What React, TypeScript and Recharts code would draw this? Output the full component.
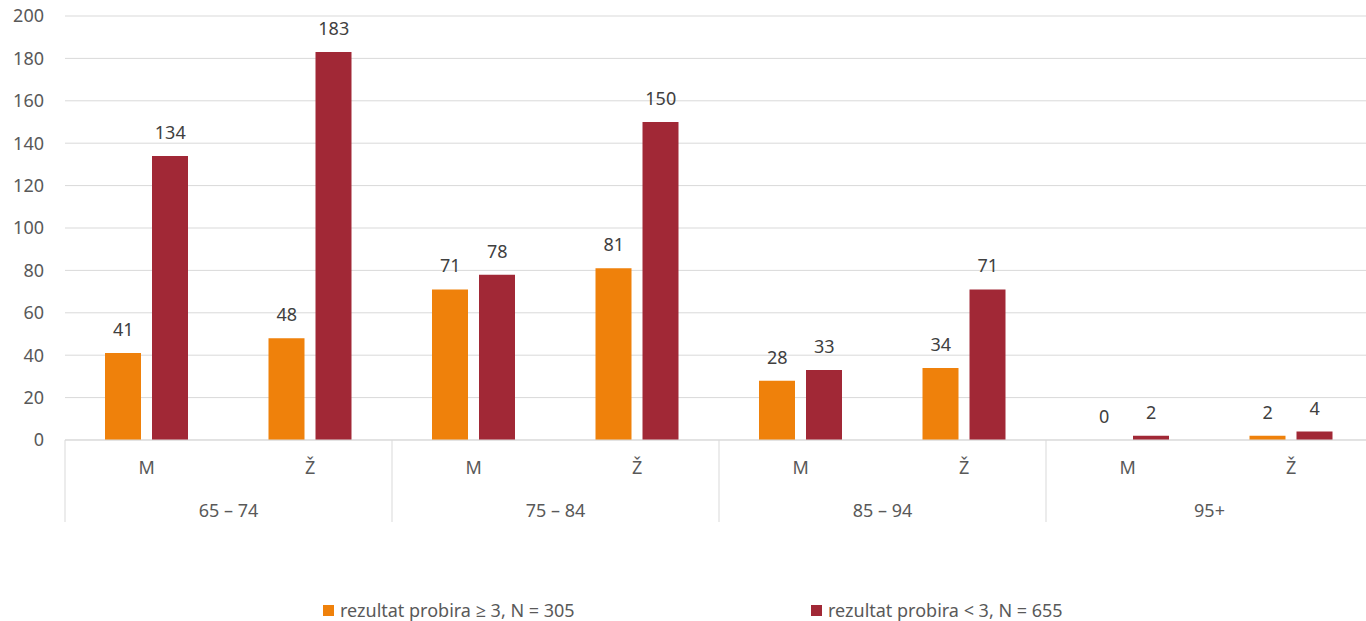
import React from 'react';
import { ComposedChart, Bar, Line, XAxis, YAxis, CartesianGrid, LabelList, Legend } from 'recharts';

const ageGroups = ['65 – 74', '75 – 84', '85 – 94', '95+'];
const sexes = ['M', 'Ž'];
const positiveValues = [41, 48, 71, 81, 28, 34, 0, 2];
const negativeValues = [134, 183, 78, 150, 33, 71, 2, 4];
const yTicks = [0, 20, 40, 60, 80, 100, 120, 140, 160, 180, 200];
const seriesNames = ['rezultat probira ≥ 3, N = 305', 'rezultat probira < 3, N = 655'];
const seriesColors = ['#EF810B', '#A12836'];

const data = positiveValues.map((v, i) => ({
  id: String(i),
  sex: sexes[i % 2],
  group: ageGroups[Math.floor(i / 2)],
  pos: v,
  neg: negativeValues[i],
}));

const FONT = '"Noto Sans", "Open Sans", sans-serif';
const CHART_W = 1373;
const CHART_H = 621;
const LEFT = 65;
const TOP = 16;
const XAXIS_H = 90;
const LEGEND_H = 91;
const PLOT_BOTTOM = CHART_H - XAXIS_H - LEGEND_H;
const BAND = (CHART_W - LEFT) / data.length;
const BAR_SIZE = 36;
const BAR_GAP = 11;
const BAR_SHIFT = (BAR_SIZE + BAR_GAP) / 2;
const AXIS_GREY = '#D9D9D9';

const XTick = (props: any) => {
  const { x, payload } = props;
  const idx = payload.index;
  const item = data[idx];
  return (
    <g>
      <text x={x} y={PLOT_BOTTOM + 34} textAnchor="middle" fill="#595959" fontSize={18} fontFamily={FONT}>
        {item.sex}
      </text>
      {idx % 2 === 0 && (
        <>
          <text x={x + BAND / 2} y={PLOT_BOTTOM + 77} textAnchor="middle" fill="#595959" fontSize={18} fontFamily={FONT}>
            {item.group}
          </text>
          <line x1={x - BAND / 2} x2={x - BAND / 2} y1={PLOT_BOTTOM} y2={PLOT_BOTTOM + 82} stroke={AXIS_GREY} strokeWidth={1} />
        </>
      )}
    </g>
  );
};

const makePointLabel = (shift: number) => (props: any) => {
  const { x, y, value } = props;
  if (x == null || y == null || value == null) return null;
  return (
    <text x={x + shift} y={y - 17} textAnchor="middle" fill="#404040" fontSize={18} fontFamily={FONT}>
      {String(value)}
    </text>
  );
};
const PosLabel = makePointLabel(-BAR_SHIFT);
const NegLabel = makePointLabel(BAR_SHIFT);

const LegendContent = () => {
  const lefts = [323, 811];
  return (
    <div style={{ position: 'relative', width: '100%', height: LEGEND_H }}>
      {seriesNames.map((name, i) => (
        <div
          key={name}
          style={{
            position: 'absolute',
            left: lefts[i],
            top: 71,
            display: 'flex',
            alignItems: 'center',
            fontFamily: FONT,
            fontSize: 18,
            color: '#595959',
            whiteSpace: 'nowrap',
            lineHeight: '18px',
            height: 18,
          }}
        >
          <span style={{ display: 'inline-block', width: 11, height: 11, background: seriesColors[i], marginRight: 6 }} />
          <span>{name}</span>
        </div>
      ))}
    </div>
  );
};

export default function App() {
  return (
    <div style={{ position: 'absolute', left: 0, top: 0, width: 1366, height: 621, overflow: 'hidden', background: '#fff' }}>
      <ComposedChart
        width={CHART_W}
        height={CHART_H}
        data={data}
        margin={{ top: TOP, right: 0, left: 0, bottom: 0 }}
        barSize={BAR_SIZE}
        barGap={BAR_GAP}
        style={{ fontFamily: FONT }}
      >
        <CartesianGrid vertical={false} stroke={AXIS_GREY} strokeWidth={1} />
        <YAxis
          width={LEFT}
          domain={[0, 200]}
          ticks={yTicks}
          interval={0}
          axisLine={false}
          tickLine={false}
          tickSize={0}
          tickMargin={21}
          tick={{ fill: '#595959', fontSize: 18, fontFamily: FONT }}
        />
        <XAxis
          dataKey="id"
          height={XAXIS_H}
          interval={0}
          axisLine={{ stroke: AXIS_GREY, strokeWidth: 1 }}
          tickLine={false}
          tick={<XTick />}
        />
        <Legend verticalAlign="bottom" height={LEGEND_H} content={<LegendContent />} />
        <Bar dataKey="pos" name={seriesNames[0]} fill={seriesColors[0]} isAnimationActive={false} />
        <Bar dataKey="neg" name={seriesNames[1]} fill={seriesColors[1]} isAnimationActive={false} />
        <Line
          dataKey="pos"
          stroke="none"
          dot={false}
          activeDot={false}
          legendType="none"
          isAnimationActive={false}
        >
          <LabelList dataKey="pos" content={PosLabel} />
        </Line>
        <Line
          dataKey="neg"
          stroke="none"
          dot={false}
          activeDot={false}
          legendType="none"
          isAnimationActive={false}
        >
          <LabelList dataKey="neg" content={NegLabel} />
        </Line>
      </ComposedChart>
    </div>
  );
}
